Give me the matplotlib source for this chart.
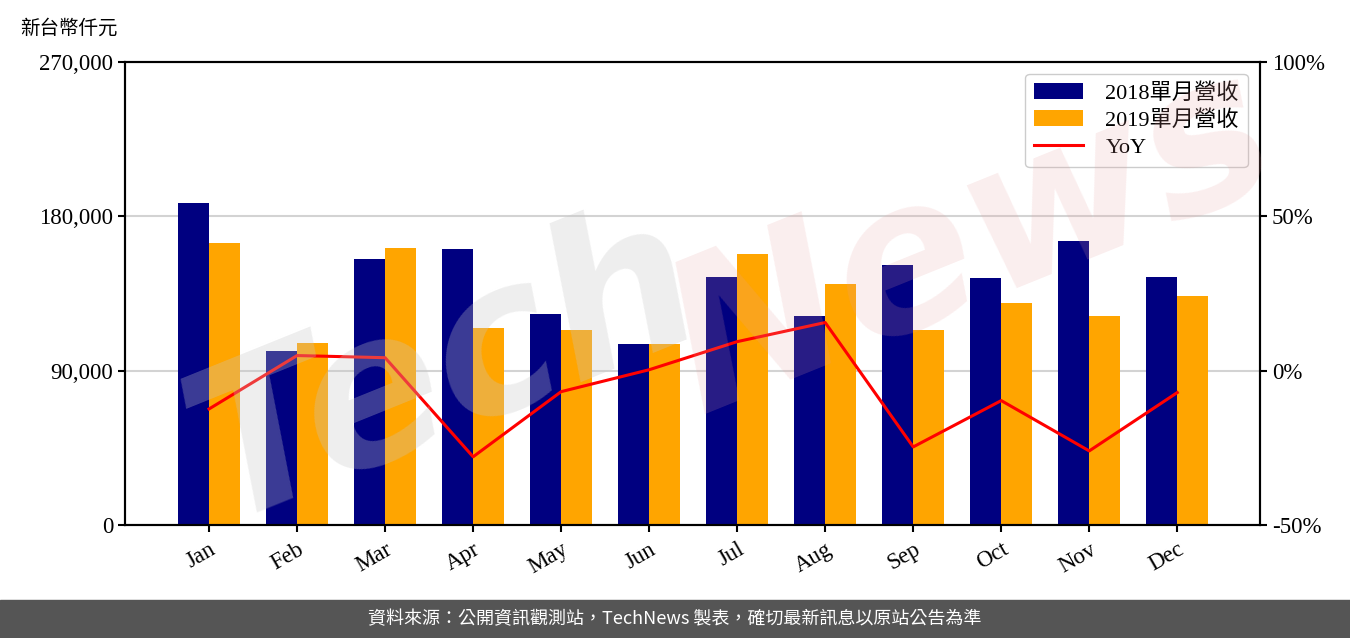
import matplotlib
matplotlib.use("Agg")
import matplotlib.pyplot as plt
import matplotlib.ticker as mticker
import numpy as np

# data (thousand NTD)
months = ["Jan", "Feb", "Mar", "Apr", "May", "Jun",
          "Jul", "Aug", "Sep", "Oct", "Nov", "Dec"]
rev_2018 = [187600, 101700, 155400, 160700, 123300, 105800,
            144900, 121600, 151900, 143800, 165400, 144900]
rev_2019 = [164200, 106400, 161300, 115100, 114000, 105800,
            157800, 140300, 114000, 129700, 122100, 133800]
yoy = [-12.4, 4.9, 4.2, -27.9, -6.8, 0.3,
       9.4, 15.6, -24.7, -9.7, -26.0, -7.1]

serif = ["Liberation Serif", "Noto Sans CJK TC"]
plt.rcParams["font.family"] = serif

fig = plt.figure(figsize=(13.5, 6.38), dpi=100)
ax = fig.add_axes([125 / 1350, 1 - 525 / 638, 1135 / 1350, 463 / 638])
ax2 = ax.twinx()

x = np.arange(len(months))
w = 0.35
ax.bar(x - w / 2, rev_2018, w, color="#000080", label="2018單月營收", zorder=2)
ax.bar(x + w / 2, rev_2019, w, color="#ffa500", label="2019單月營收", zorder=2)
ax2.plot(x, yoy, color="#ff0000", linewidth=2.2, label="YoY")

ax.set_xlim(-0.955, 11.94)
ax.set_ylim(0, 270000)
ax.set_yticks([0, 90000, 180000, 270000])
ax.yaxis.set_major_formatter(mticker.FuncFormatter(lambda v, p: f"{int(v):,}"))
ax.set_xticks(x)
ax.set_xticklabels(months, rotation=30, ha="right", rotation_mode="anchor")
ax.tick_params(axis="both", labelsize=16.5, width=1.5, length=5)
ax.tick_params(axis="x", pad=5)
ax.yaxis.grid(True, color="#d3d3d3", linewidth=1.5, zorder=0)
ax.set_axisbelow(True)

ax2.set_ylim(-50, 100)
ax2.set_yticks([-50, 0, 50, 100])
ax2.yaxis.set_major_formatter(mticker.FuncFormatter(lambda v, p: f"{int(v)}%"))
ax2.tick_params(axis="y", labelsize=16.5, width=1.5, length=5)

for a in (ax, ax2):
    for s in a.spines.values():
        s.set_linewidth(1.5)

h1, l1 = ax.get_legend_handles_labels()
h2, l2 = ax2.get_legend_handles_labels()
ax2.legend(h1 + h2, l1 + l2, loc="upper right", fontsize=16,
           bbox_to_anchor=(0.999, 0.998), framealpha=1, edgecolor="#cccccc",
           handlelength=2.2, handletextpad=1.0, borderpad=0.4, labelspacing=0.3)

fig.text(20 / 1350, 1 - 28 / 638, "新台幣仟元", fontsize=14, va="center",
         family=["Noto Sans CJK TC"])

# watermark
fig.text(0.33, 0.42, "Tech", fontsize=150, fontweight="bold", style="italic",
         color="#c8c8c8", alpha=0.3, rotation=22, ha="center", va="center",
         family=["DejaVu Sans"])
fig.text(0.72, 0.62, "News", fontsize=150, fontweight="bold", style="italic",
         color="#e8a0a0", alpha=0.18, rotation=22, ha="center", va="center",
         family=["DejaVu Sans"])

# footer band
fig.patches.append(plt.Rectangle((0, 0), 1, 38 / 638, transform=fig.transFigure,
                                 color="#555555", zorder=0))
fig.text(0.5, 19 / 638, "資料來源：公開資訊觀測站，TechNews 製表，確切最新訊息以原站公告為準",
         color="white", fontsize=13, ha="center", va="center",
         family=["Noto Sans CJK TC"])

fig.savefig("out.png", dpi=100)
